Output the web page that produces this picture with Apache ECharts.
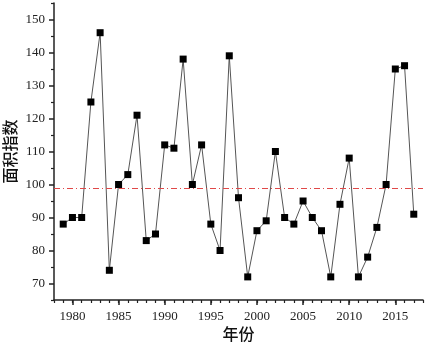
<!DOCTYPE html>
<html>
<head>
<meta charset="utf-8">
<script src="https://cdn.jsdelivr.net/npm/echarts@6/dist/echarts.min.js"></script>
<style>
  html, body { margin: 0; padding: 0; background: #fff; }
  #chart { width: 425px; height: 344px; }
</style>
</head>
<body>
<div id="chart"></div>
<script>
const years = [
  1979, 1980, 1981, 1982, 1983, 1984, 1985, 1986, 1987, 1988,
  1989, 1990, 1991, 1992, 1993, 1994, 1995, 1996, 1997, 1998,
  1999, 2000, 2001, 2002, 2003, 2004, 2005, 2006, 2007, 2008,
  2009, 2010, 2011, 2012, 2013, 2014, 2015, 2016, 2017,
];
const areaIndex = [
  88, 90, 90, 125, 146, 74, 100, 103, 121, 83,
  85, 112, 111, 138, 100, 112, 88, 80, 139, 96,
  72, 86, 89, 110, 90, 88, 95, 90, 86, 72,
  94, 108, 72, 78, 87, 100, 135, 136, 91,
];
const meanValue = 99;
const xLabels = [1980, 1985, 1990, 1995, 2000, 2005, 2010, 2015];
const yLabels = [70, 80, 90, 100, 110, 120, 130, 140, 150];
const yMinor = [65, 75, 85, 95, 105, 115, 125, 135, 145, 155];
const xMinor = [];
for (let y = 1978; y <= 2018; y++) xMinor.push(y);

const font = 'Liberation Serif';
const cjk = 'Noto Sans CJK SC';

const chart = echarts.init(document.getElementById('chart'), null, { renderer: 'canvas' });

const option = {
  animation: false,
  grid: { left: 54, right: 2, top: 3, bottom: 44, containLabel: false, outerBoundsMode: 'none' },
  xAxis: [
    {
      type: 'value',
      min: 1978,
      max: 2018,
      name: '年份',
      nameLocation: 'middle',
      nameGap: 26,
      nameMoveOverlap: false,
      nameTextStyle: { fontFamily: cjk, fontSize: 16, color: '#111', fontWeight: 500 },
      axisLine: { lineStyle: { color: '#222', width: 1.5 } },
      axisTick: { show: true, inside: false, length: 5, customValues: xLabels, lineStyle: { color: '#222', width: 1.5 } },
      axisLabel: { customValues: xLabels, formatter: v => String(v), margin: 10, fontFamily: font, fontSize: 13, color: '#222' },
      splitLine: { show: false },
    },
    {
      type: 'value',
      min: 1978,
      max: 2018,
      position: 'bottom',
      axisLine: { show: false },
      axisTick: { show: true, length: 3, customValues: xMinor, lineStyle: { color: '#222', width: 1.2 } },
      axisLabel: { show: false },
      splitLine: { show: false },
    },
  ],
  yAxis: [
    {
      type: 'value',
      min: 65,
      max: 155,
      name: '面积指数',
      nameLocation: 'middle',
      nameGap: 36,
      nameMoveOverlap: false,
      nameTextStyle: { fontFamily: cjk, fontSize: 16, color: '#111', fontWeight: 500 },
      axisLine: { show: true, lineStyle: { color: '#222', width: 1.5 } },
      axisTick: { show: true, length: 5, customValues: yLabels, lineStyle: { color: '#222', width: 1.5 } },
      axisLabel: { customValues: yLabels, margin: 9, fontFamily: font, fontSize: 13, color: '#222' },
      splitLine: { show: false },
    },
    {
      type: 'value',
      min: 65,
      max: 155,
      position: 'left',
      axisLine: { show: false },
      axisTick: { show: true, length: 3, customValues: yMinor, lineStyle: { color: '#222', width: 1.2 } },
      axisLabel: { show: false },
      splitLine: { show: false },
    },
  ],
  series: [
    {
      type: 'line',
      data: years.map((y, i) => [y, areaIndex[i]]),
      symbol: 'rect',
      symbolSize: 7,
      itemStyle: { color: '#000' },
      lineStyle: { color: '#555', width: 1 },
      markLine: {
        silent: true,
        symbol: 'none',
        label: { show: false },
        itemStyle: { color: '#e04848' },
        lineStyle: { color: '#e04848', width: 1, type: [6, 3, 1, 3] },
        data: [{ yAxis: meanValue, lineStyle: { color: '#e04848' } }],
      },
    },
  ],
};

chart.setOption(option);
</script>
</body>
</html>
